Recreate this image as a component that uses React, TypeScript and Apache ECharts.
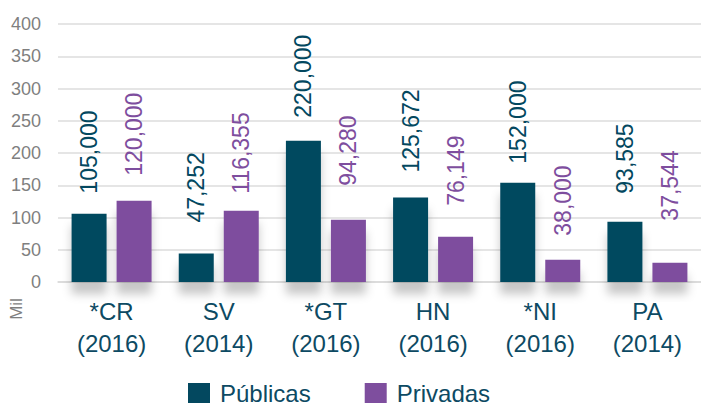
import React, { useEffect, useRef } from "react";
import * as echarts from "echarts";

const countries = ["*CR", "SV", "*GT", "HN", "*NI", "PA"];
const years = ["2016", "2014", "2016", "2016", "2016", "2014"];
const yTicks = [0, 50, 100, 150, 200, 250, 300, 350, 400];

// bar heights (miles) as drawn
const publicas = [106, 44, 219, 131, 154, 93.5];
const privadas = [126, 110.5, 96.5, 70, 34.6, 30];

// printed value labels
const publicasLabels = [105000, 47252, 220000, 125672, 152000, 93585];
const privadasLabels = [120000, 116355, 94280, 76149, 38000, 37544];

// label distance above each bar (style)
const publicasGap = [20, 31, 23, 25, 19, 28];
const privadasGap = [25, 17, 34, 31, 24, 42];

const TEAL = "#03485f";
const PURPLE = "#7e4e9e";
const FONT = "'Liberation Sans', Arial, sans-serif";

const categories = countries.map((c, i) => `${c}\n(${years[i]})`);

function makeSeries(name: string, values: number[], labels: number[], gaps: number[], color: string) {
  return {
    name,
    type: "bar",
    barWidth: 35,
    barGap: "28.6%",
    itemStyle: {
      color,
      shadowColor: "rgba(0,0,0,0.22)",
      shadowBlur: 10,
      shadowOffsetY: 12,
    },
    data: values.map((v, i) => ({
      value: v,
      label: {
        show: true,
        position: "top",
        rotate: 90,
        align: "left",
        verticalAlign: "middle",
        distance: gaps[i],
        color,
        fontSize: 23,
        fontFamily: FONT,
        formatter: () => labels[i].toLocaleString("en-US"),
      },
    })),
  };
}

export default function App() {
  const ref = useRef<HTMLDivElement>(null);
  useEffect(() => {
    if (!ref.current) return;
    const chart = echarts.init(ref.current, undefined, { renderer: "svg" });
    chart.setOption({
      animation: false,
      grid: { left: 58, right: 0, top: 24, bottom: 123 },
      legend: {
        left: 188,
        top: 381,
        itemWidth: 22,
        itemHeight: 20,
        itemGap: 54,
        icon: "rect",
        padding: 0,
        textStyle: { color: "#0d4a63", fontSize: 24, fontFamily: FONT, padding: [0, 0, 0, 5] },
        data: ["Públicas", "Privadas"],
      },
      xAxis: {
        type: "category",
        data: categories,
        axisLine: { lineStyle: { color: "#d9d9d9", width: 1.5 } },
        axisTick: { show: false },
        axisLabel: {
          color: "#0d4a63",
          fontSize: 24,
          lineHeight: 32,
          margin: 13,
          fontFamily: FONT,
        },
      },
      yAxis: {
        type: "value",
        min: yTicks[0],
        max: yTicks[yTicks.length - 1],
        interval: 50,
        axisLine: { show: false },
        axisTick: { show: false },
        splitLine: { lineStyle: { color: "#dcdcdc", width: 1.5 } },
        axisLabel: { color: "#7f7f7f", fontSize: 18, margin: 17, fontFamily: FONT },
      },
      graphic: [
        {
          type: "text",
          x: 16,
          y: 309,
          rotation: Math.PI / 2,
          style: {
            text: "Mil",
            fill: "#7f7f7f",
            fontSize: 17,
            fontFamily: FONT,
            align: "center",
            verticalAlign: "middle",
          },
        },
      ],
      series: [
        makeSeries("Públicas", publicas, publicasLabels, publicasGap, TEAL),
        makeSeries("Privadas", privadas, privadasLabels, privadasGap, PURPLE),
      ],
    });
    return () => chart.dispose();
  }, []);
  return (
    <div
      ref={ref}
      style={{ position: "absolute", left: 0, top: 0, width: 701, height: 405 }}
    />
  );
}
